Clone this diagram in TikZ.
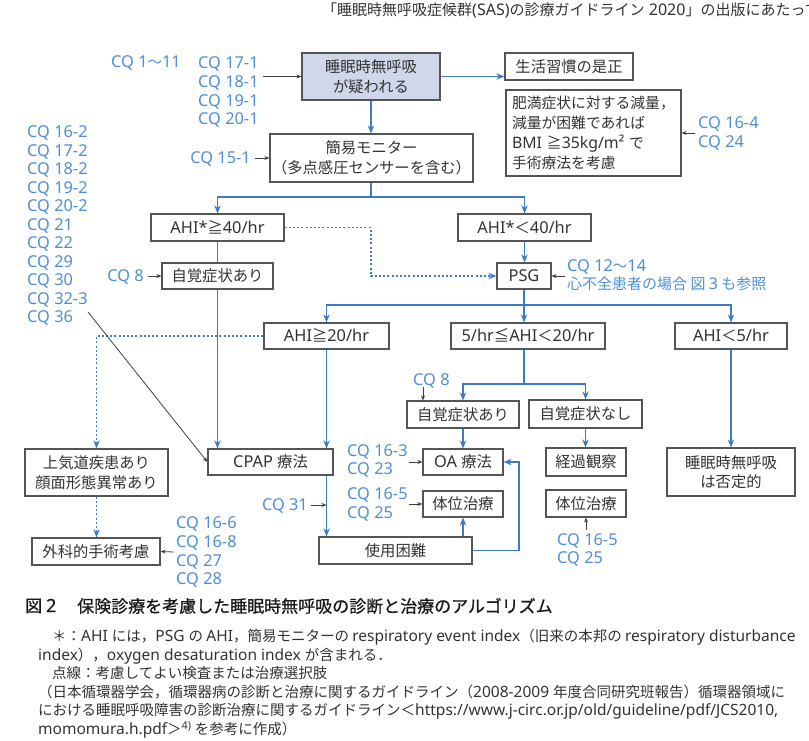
\documentclass[tikz,border=0pt]{standalone}
\usepackage{fontspec}
\setmainfont{Noto Sans CJK JP}
\newfontfamily\cjk{Noto Sans CJK JP}
\newfontfamily\latn[Scale=1.07]{Noto Sans}
\newfontfamily\capfont[FakeBold=0.8]{Noto Sans CJK JP}
\newfontfamily\caplatn[FakeBold=0.8,Scale=1.07]{Noto Sans}
\newcommand\ltxt[1]{{\latn #1}}
\usetikzlibrary{arrows.meta}
\definecolor{lineblue}{HTML}{3B7BC8}
\definecolor{cqblue}{HTML}{4F8FD8}
\definecolor{boxgray}{HTML}{555555}
\definecolor{txt}{HTML}{333333}
\definecolor{topfill}{HTML}{D0D7EB}
\begin{document}
\begin{tikzpicture}[x=1pt,y=-1pt,
 box/.style={draw=boxgray,line width=1.2pt,fill=white,text=txt,inner sep=0pt,align=center,font=\fontsize{15.3}{19.5}\selectfont},
 one/.style={text height=13pt,text depth=1.5pt},
 cq/.style={text=cqblue,inner sep=0pt,font=\latn\fontsize{15.3}{18.5}\selectfont,text height=11.7pt,text depth=0pt},
 flow/.style={draw=lineblue,line width=1.9pt,-{Stealth[length=8pt,width=6.5pt]}},
 flowline/.style={draw=lineblue,line width=1.9pt},
 dotflow/.style={draw=lineblue,line width=1.9pt,dash pattern=on 2pt off 2.2pt,-{Stealth[length=8pt,width=6.5pt]}},
 ptr/.style={draw=black!75,line width=0.8pt,-{Stealth[length=5pt,width=4pt]}},
 note/.style={text=txt,inner sep=0pt,anchor=west,font=\fontsize{14.5}{16}\selectfont,text height=11.5pt,text depth=0pt}
]
\useasboundingbox (0,0) rectangle (809,741);
\fill[white] (0,0) rectangle (809,741);
\clip (0,0) rectangle (809,741);

% header (cut at the right edge, as in the reference)
\node[note,font=\fontsize{15}{17}\selectfont] (hdr) at (322,10) {「睡眠時無呼吸症候群\ltxt{(SAS)}の診療ガイドライン\ltxt{ 2020}」の出版にあたって};

% boxes
\node[box,fill=topfill,minimum width=138pt,minimum height=47pt] (top) at (371,76.5) {睡眠時無呼吸\\が疑われる};
\node[box,one,minimum width=128pt,minimum height=27pt] (life) at (569,66.5) {生活習慣の是正};
\node[box,align=left,minimum width=175pt,minimum height=86pt,text width=163pt,font=\fontsize{14.8}{20}\selectfont] (obese) at (593.5,133) {肥満症状に対する減量，\\減量が困難であれば\\\ltxt{BMI }≧\ltxt{35kg/m²} で\\手術療法を考慮};
\node[box,minimum width=203pt,minimum height=48pt] (mon) at (371.5,158) {簡易モニター\\（多点感圧センサーを含む）};
\node[box,one,minimum width=133pt,minimum height=27pt] (a40) at (217.5,227.5) {\ltxt{AHI*}≧\ltxt{40/hr}};
\node[box,one,minimum width=133pt,minimum height=27pt] (b40) at (524.5,227.5) {\ltxt{AHI*}＜\ltxt{40/hr}};
\node[box,one,minimum width=54pt,minimum height=26pt] (psg) at (524,276) {\ltxt{PSG}};
\node[box,one,minimum width=111pt,minimum height=26pt] (sym1) at (217.5,276) {自覚症状あり};
\node[box,one,minimum width=125pt,minimum height=26pt] (a20) at (326.5,336) {\ltxt{AHI}≧\ltxt{20/hr}};
\node[box,one,minimum width=154pt,minimum height=26pt] (mid) at (528,336) {\ltxt{5/hr}≦\ltxt{AHI}＜\ltxt{20/hr}};
\node[box,one,minimum width=112pt,minimum height=26pt] (a5) at (731,336) {\ltxt{AHI}＜\ltxt{5/hr}};
\node[box,minimum width=143pt,minimum height=47pt] (upper) at (96.5,472.5) {上気道疾患あり\\顔面形態異常あり};
\node[box,one,minimum width=128pt,minimum height=27pt] (surg) at (96,551.5) {外科的手術考慮};
\node[box,one,minimum width=125pt,minimum height=26pt] (cpap) at (270.5,462) {\ltxt{CPAP }療法};
\node[box,one,minimum width=112pt,minimum height=27pt] (sym2) at (463,414.5) {自覚症状あり};
\node[box,one,minimum width=113pt,minimum height=28pt] (nosym) at (585.5,414) {自覚症状なし};
\node[box,one,minimum width=80pt,minimum height=26pt] (oa) at (463,462) {\ltxt{OA }療法};
\node[box,one,minimum width=80pt,minimum height=26pt] (pos1) at (463,504) {体位治療};
\node[box,one,minimum width=153pt,minimum height=27pt] (diff) at (395.5,550.5) {使用困難};
\node[box,one,minimum width=80pt,minimum height=28pt] (obs) at (586,462) {経過観察};
\node[box,one,minimum width=80pt,minimum height=27pt] (pos2) at (586,503.5) {体位治療};
\node[box,minimum width=128pt,minimum height=48pt] (neg) at (731,472) {睡眠時無呼吸\\は否定的};

% flow connectors
\draw[flow] (top.east) -- (top.east -| life.west);
\draw[flow] (top.south) -- (top.south |- mon.north);
\coordinate (m1) at (371,197);
\draw[flowline] (top.south |- mon.south) -- (m1);
\draw[flow] (m1) -| (a40.north);
\draw[flow] (m1) -| (b40.north);
\draw[flowline] (a40.south) -- (sym1.north);
\draw[flow] (sym1.south) -- (sym1.south |- cpap.north);
\draw[flow] (b40.south) -- (b40.south |- psg.north);
\draw[dotflow] (a40.east) -- ++(86,0) |- (psg.west);
\coordinate (p1) at (524,305);
\draw[flowline] (psg.south) -- (p1);
\draw[flow] (p1) -| (a20.north);
\draw[flow] (p1) -- (p1 |- mid.north);
\draw[flow] (p1) -| (a5.north);
\draw[flow] (a20.south) -- (a20.south |- cpap.north);
\draw[dotflow] (a20.west) -| (upper.north);
\draw[dotflow] (upper.south) -- (upper.south |- surg.north);
\draw[flow] (a20.south |- cpap.south) -- (a20.south |- diff.north);
\coordinate (q1) at (524,384);
\draw[flowline] (q1 |- mid.south) -- (q1);
\draw[flow] (q1) -| (sym2.north);
\draw[flow] (q1) -| (nosym.north);
\draw[flow] (sym2.south) -- (oa.north);
\draw[flow] (nosym.south) -- (nosym.south |- obs.north);
\draw[flow] (diff.north -| pos1.south) -- (pos1.south);
\draw[flow] (diff.east) -- ++(46,0) |- (oa.east);
\draw[flow] (a5.south) -- (neg.north);

% CQ labels
\node[cq,anchor=west] (cq111) at (111,62) {CQ 1{\cjk\fontsize{14.5}{18}\selectfont 〜}11};
\foreach \t [count=\i from 0] in {17-1,18-1,19-1,20-1}
  \node[cq,anchor=west] (cqa\i) at (198,63+18.7*\i) {CQ \t};
\coordinate (cqa) at (263,76.5);
\draw[ptr] (cqa) -- (top.west);

\foreach \t [count=\i from 0] in {16-2,17-2,18-2,19-2,20-2,21,22,29,30,32-3,36}
  \node[cq,anchor=west] (cql\i) at (27,132+18.5*\i) {CQ \t};
\coordinate (d36) at (88,312);
\draw[ptr] (d36) -- (cpap.west);

\node[cq,anchor=east] (cq15) at (251,158) {CQ 15-1};
\draw[ptr] ([xshift=4pt]cq15.east) -- (mon.west);

\node[cq,anchor=west] (cq164) at (698,123) {CQ 16-4};
\node[cq,anchor=west] (cq24) at (698,142) {CQ 24};
\coordinate (c164) at (695,133);
\draw[ptr] (c164) -- (obese.east);

\node[cq,anchor=west] (cq12) at (567,266) {CQ 12{\cjk\fontsize{14.5}{18}\selectfont 〜}14};
\node[cq,anchor=west,font=\cjk\fontsize{15}{18}\selectfont] (cqhf) at (567,284) {心不全患者の場合 図 \ltxt{3} も参照};
\coordinate (c12) at (565,276);
\draw[ptr] (c12) -- (psg.east);

\node[cq,anchor=east] (cq8a) at (144,276) {CQ 8};
\draw[ptr] ([xshift=4pt]cq8a.east) -- (sym1.west);

\node[cq,anchor=west] (cq8b) at (413,380) {CQ 8};
\coordinate (c8) at (423,387);
\draw[ptr] (c8) -- (c8 |- sym2.north);

\node[cq,anchor=west] (cq163) at (347,451) {CQ 16-3};
\node[cq,anchor=west] (cq23) at (347,469) {CQ 23};
\coordinate (c163) at (409,462);
\draw[ptr] (c163) -- (oa.west);

\node[cq,anchor=west] (cq165a) at (347,494) {CQ 16-5};
\node[cq,anchor=west] (cq25a) at (347,513) {CQ 25};
\coordinate (c165) at (409,504);
\draw[ptr] (c165) -- (pos1.west);

\node[cq,anchor=east] (cq31) at (308,505) {CQ 31};
\coordinate (c31) at (311,505);
\draw[ptr] (c31) -- (c31 -| a20.south);

\foreach \t [count=\i from 0] in {16-6,16-8,27,28}
  \node[cq,anchor=west] (cqs\i) at (176,523+18.7*\i) {CQ \t};
\coordinate (c166) at (174,552);
\draw[ptr] (c166) -- (surg.east);

\node[cq,anchor=west] (cq165b) at (557,540) {CQ 16-5};
\node[cq,anchor=west] (cq25b) at (557,558) {CQ 25};
\coordinate (c165b) at (586,530);
\draw[ptr] (c165b) -- (pos2.south);

% caption
\node[anchor=west,inner sep=0pt,text=black!90,font=\capfont\fontsize{17}{18}\selectfont] (capa) at (25,606) {図 {\caplatn 2}};
\node[anchor=west,inner sep=0pt,text=black!90,font=\capfont\fontsize{17}{18}\selectfont] (capb) at (77,606) {保険診療を考慮した睡眠時無呼吸の診断と治療のアルゴリズム};
\node[note] (n1) at (52,636) {＊：\ltxt{AHI }には，\ltxt{PSG }の \ltxt{AHI}，簡易モニターの \ltxt{respiratory event index}（旧来の本邦の \ltxt{respiratory disturbance}};
\node[note] (n2) at (38,654.5) {\ltxt{index}），\ltxt{oxygen desaturation index }が含まれる．};
\node[note] (n3) at (52,673) {点線：考慮してよい検査または治療選択肢};
\node[note] (n4) at (38,691.5) {（日本循環器学会，循環器病の診断と治療に関するガイドライン（\ltxt{2008-2009 }年度合同研究班報告）循環器領域に};
\node[note] (n5) at (38,710) {における睡眠呼吸障害の診断治療に関するガイドライン＜\ltxt{https://www.j-circ.or.jp/old/guideline/pdf/JCS2010,}};
\node[note] (n6) at (38,728.5) {\ltxt{momomura.h.pdf}＞\textsuperscript{\latn 4)} を参考に作成）};
\end{tikzpicture}
\end{document}
